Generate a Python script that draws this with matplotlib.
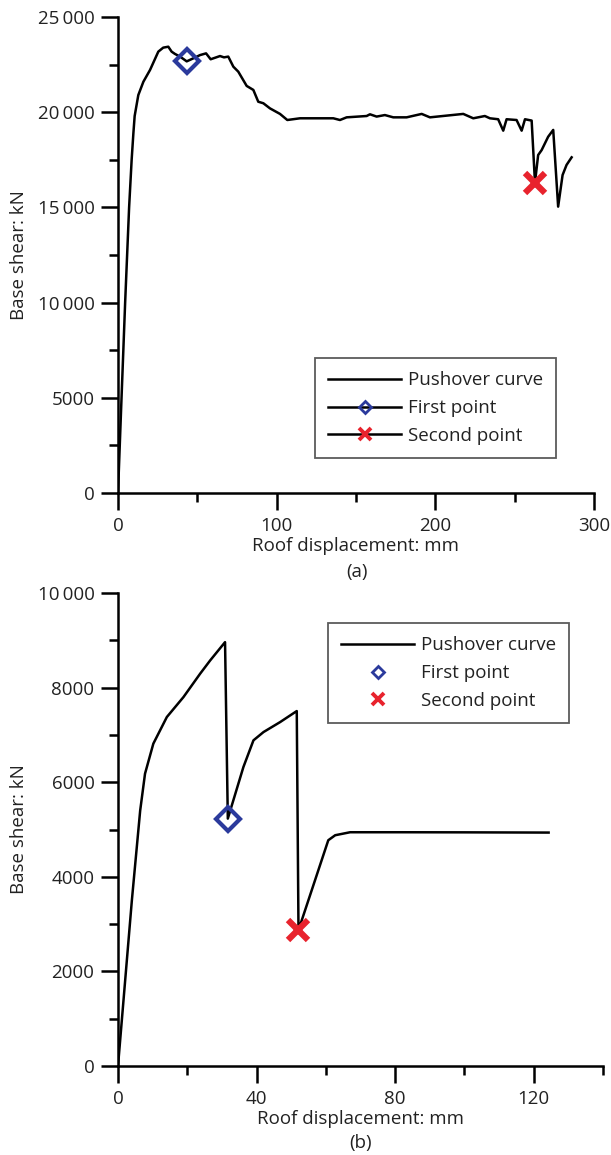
import matplotlib
matplotlib.use("Agg")
import matplotlib.pyplot as plt
from matplotlib.lines import Line2D
from matplotlib.ticker import MultipleLocator

plt.rcParams['font.family'] = ['Open Sans', 'DejaVu Sans']

# ---------------- data (a) ----------------
disp_a = [0, 2, 4.5, 7, 8.6, 9.7, 10.5, 12.8, 16, 20.2, 25.4, 28.5, 31.7, 33.8, 35.9, 39.1,
          43.3, 47.5, 51.7, 55.5, 58.4, 64.3, 66.8, 69.5, 72.7, 75.8, 81.1, 85.3, 88.4, 91.6,
          95.8, 102.1, 106.7, 114.7, 135.7, 139.9, 144.1, 156.7, 158.8, 163, 168.2, 173.5,
          181.9, 191.4, 196.6, 217.6, 223.9, 231.2, 234.4, 239.6, 242.8, 244.9, 251.2, 254.4,
          256.5, 260.7, 262.8, 264.8, 267, 271.1, 274.3, 277.4, 280.2, 282.7, 285.9]
shear_a = [0, 4500, 10000, 15000, 17500, 18900, 19800, 20900, 21600, 22220, 23180, 23390,
           23440, 23180, 23060, 22920, 22670, 22830, 23000, 23090, 22780, 22950, 22880, 22920,
           22390, 22130, 21380, 21170, 20550, 20470, 20200, 19910, 19590, 19680, 19680, 19590,
           19730, 19800, 19890, 19770, 19850, 19730, 19730, 19910, 19730, 19910, 19680, 19800,
           19680, 19630, 19030, 19630, 19590, 19030, 19630, 19560, 16300, 17750, 18010, 18710,
           19070, 15040, 16700, 17230, 17630]
first_a = (43.3, 22670)
second_a = (262.8, 16300)

# ---------------- data (b) ----------------
disp_b = [0, 4, 6.4, 7.8, 10.2, 14.1, 18.9, 23.7, 26.6, 30.9, 31.7, 33.3, 36.2, 39.1, 42,
          46.8, 51.6, 52.1, 60.7, 62.7, 67, 81.5, 100, 124.3]
shear_b = [0, 3500, 5400, 6180, 6815, 7378, 7800, 8293, 8574, 8961, 5230, 5618, 6321, 6885,
           7060, 7271, 7504, 2872, 4773, 4879, 4942, 4942, 4940, 4935]
first_b = (31.7, 5230)
second_b = (52.1, 2872)

xticks_a = [0, 100, 200, 300]
yticks_a = [0, 5000, 10000, 15000, 20000, 25000]
ylabels_a = ['0', '5000', '10\u2009000', '15\u2009000', '20\u2009000', '25\u2009000']
xticks_b = [0, 40, 80, 120]
yticks_b = [0, 2000, 4000, 6000, 8000, 10000]
ylabels_b = ['0', '2000', '4000', '6000', '8000', '10\u2009000']
legend_labels = ['Pushover curve', 'First point', 'Second point']

blue = '#2b3a9c'
red = '#e8232d'
fs = 13.5
txtcol = '#222222'

fig = plt.figure(figsize=(6.11, 11.55), dpi=100)
ax1 = fig.add_axes([118 / 611, (1155 - 493) / 1155, 476 / 611, 476 / 1155])
ax2 = fig.add_axes([118 / 611, (1155 - 1066) / 1155, 485 / 611, 473 / 1155])


def style(ax):
    for s in ['top', 'right']:
        ax.spines[s].set_visible(False)
    for s in ['left', 'bottom']:
        ax.spines[s].set_linewidth(1.8)
    ax.tick_params(which='major', direction='out', length=12, width=1.8, labelsize=fs,
                   pad=5, labelcolor=txtcol)
    ax.tick_params(which='minor', direction='out', length=6.5, width=1.8)


def legend(ax, handles, anchor):
    leg = ax.legend(handles, legend_labels, loc='upper left', bbox_to_anchor=anchor,
                    borderaxespad=0, fontsize=fs, handlelength=3.9, frameon=True,
                    fancybox=False, edgecolor='#333333', borderpad=0.7, labelspacing=0.53,
                    handletextpad=0.35)
    leg.get_frame().set_linewidth(1.3)
    for t in leg.get_texts():
        t.set_color(txtcol)


# ---- (a) ----
ax1.plot(disp_a, shear_a, color='black', lw=1.8)
ax1.plot(*first_a, marker='D', ms=12, mfc='none', mec=blue, mew=3, ls='none')
ax1.plot(*second_a, marker='x', ms=15, mec=red, mew=4.5, ls='none')
ax1.set_xlim(0, 300)
ax1.set_ylim(0, 25000)
ax1.set_xticks(xticks_a)
ax1.set_yticks(yticks_a)
ax1.set_yticklabels(ylabels_a)
ax1.xaxis.set_minor_locator(MultipleLocator(50))
ax1.yaxis.set_minor_locator(MultipleLocator(2500))
style(ax1)
ax1.set_xlabel('Roof displacement: mm', fontsize=fs, labelpad=2, color=txtcol)
ax1.set_ylabel('Base shear: kN', fontsize=fs, color=txtcol)
ax1.yaxis.set_label_coords((28 - 118) / 476, 0.5)
fig.text(357 / 611, (1155 - 572) / 1155, '(a)', fontsize=fs, ha='center', va='center',
         color=txtcol)
h1 = [Line2D([], [], color='black', lw=1.8),
      Line2D([], [], color='black', lw=1.8, marker='D', ms=6, mfc='none', mec=blue, mew=2),
      Line2D([], [], color='black', lw=1.8, marker='x', ms=8, mec=red, mew=2.8)]
legend(ax1, h1, ((315 - 118) / 476, (493 - 358) / 476))

# ---- (b) ----
ax2.plot(disp_b, shear_b, color='black', lw=1.8)
ax2.plot(*first_b, marker='D', ms=12, mfc='none', mec=blue, mew=3, ls='none')
ax2.plot(*second_b, marker='x', ms=15, mec=red, mew=4.5, ls='none')
ax2.set_xlim(0, 140)
ax2.set_ylim(0, 10000)
ax2.set_xticks(xticks_b)
ax2.set_yticks(yticks_b)
ax2.set_yticklabels(ylabels_b)
ax2.xaxis.set_minor_locator(MultipleLocator(20))
ax2.yaxis.set_minor_locator(MultipleLocator(1000))
style(ax2)
ax2.set_xlabel('Roof displacement: mm', fontsize=fs, labelpad=2, color=txtcol)
ax2.set_ylabel('Base shear: kN', fontsize=fs, color=txtcol)
ax2.yaxis.set_label_coords((28 - 118) / 485, 0.5)
fig.text(361 / 611, (1155 - 1143) / 1155, '(b)', fontsize=fs, ha='center', va='center',
         color=txtcol)
h2 = [Line2D([], [], color='black', lw=1.8),
      Line2D([], [], ls='none', marker='D', ms=6, mfc='none', mec=blue, mew=2),
      Line2D([], [], ls='none', marker='x', ms=8, mec=red, mew=2.8)]
legend(ax2, h2, ((328 - 118) / 485, (1066 - 623) / 473))

fig.savefig('out.png', dpi=100)
